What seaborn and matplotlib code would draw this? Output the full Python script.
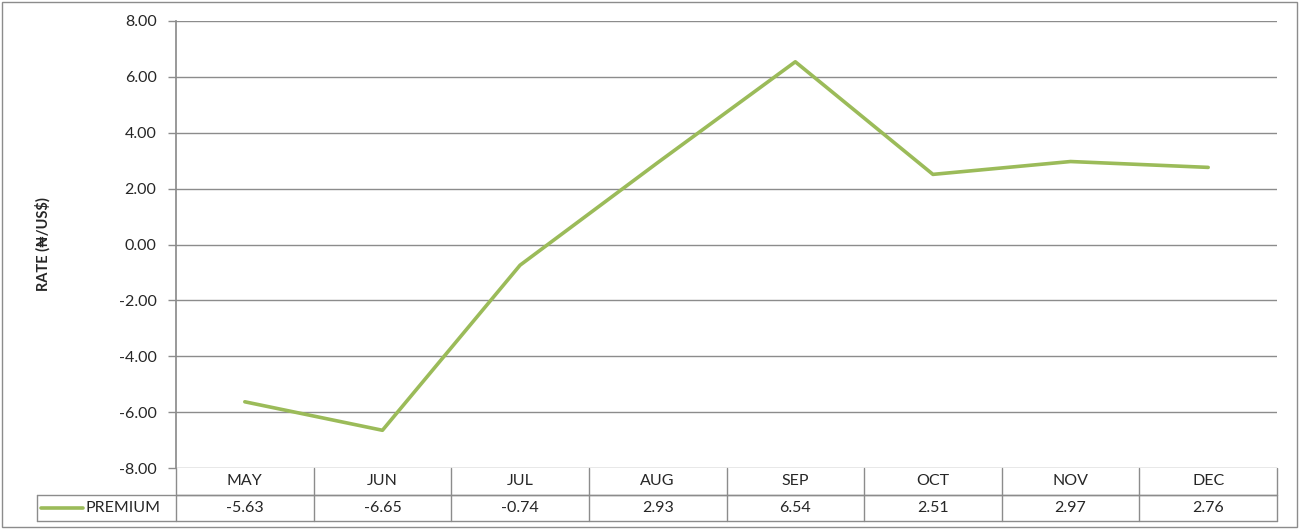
import seaborn as sns
import pandas as pd
import matplotlib.pyplot as plt
from matplotlib.patches import Rectangle

sns.set_theme(style="white")
plt.rcParams['font.family'] = ['Lato', 'DejaVu Sans']

months = ["MAY", "JUN", "JUL", "AUG", "SEP", "OCT", "NOV", "DEC"]
premium = [-5.63, -6.65, -0.74, 2.93, 6.54, 2.51, 2.97, 2.76]
series_name = "PREMIUM"
yticks = [-8, -6, -4, -2, 0, 2, 4, 6, 8]

df = pd.DataFrame({"month": months, "rate": premium})

GREEN = "#9BBB59"
GRID = "#8c8c8c"

fig = plt.figure(figsize=(12.99, 5.29), dpi=100)
ax = fig.add_axes([176 / 1299, 61 / 529, 1101 / 1299, 447 / 529])

sns.lineplot(data=df, x="month", y="rate", ax=ax, color=GREEN, lw=2.6, sort=False)

ax.set_xlim(-0.5, len(months) - 0.5)
ax.set_ylim(-8, 8)
ax.set_yticks(yticks)
ax.set_yticklabels([f"{v:.2f}" for v in yticks], fontsize=11.5)
ax.set_xticks([])
ax.set_xlabel("")
ax.set_ylabel("RATE (\u20a6/US$)", fontsize=10.5, fontweight="bold")
ax.yaxis.set_label_coords((51 - 176) / 1101, 0.5)
ax.yaxis.grid(True, color=GRID, lw=1)
ax.tick_params(axis="y", length=6, width=1, color=GRID, left=True, pad=8)
for s in ["top", "right", "bottom"]:
    ax.spines[s].set_visible(False)
ax.spines["left"].set_color(GRID)

# data table beneath the axes (axes fraction coordinates)
row_h = 26.5 / 447
col_w = 1.0 / len(months)
leg_left = (37 - 176) / 1101
tkw = dict(transform=ax.transAxes, clip_on=False, color=GRID, lw=1)
ax.plot([0, 1], [-row_h, -row_h], **tkw)
ax.plot([leg_left, 1], [-row_h, -row_h], **tkw)
ax.plot([leg_left, 1], [-2 * row_h, -2 * row_h], **tkw)
ax.plot([0, 0], [0, -2 * row_h], **tkw)
ax.plot([leg_left, leg_left], [-row_h, -2 * row_h], **tkw)
for i in range(1, len(months) + 1):
    ax.plot([i * col_w, i * col_w], [0, -2 * row_h], **tkw)

for i, (m, v) in enumerate(zip(months, premium)):
    xc = (i + 0.5) * col_w
    ax.text(xc, -0.5 * row_h, m, transform=ax.transAxes, ha="center", va="center", fontsize=11.5)
    ax.text(xc, -1.5 * row_h, f"{v:.2f}", transform=ax.transAxes, ha="center", va="center", fontsize=11.5)

ax.plot([leg_left + 4 / 1101, leg_left + 46 / 1101], [-1.5 * row_h, -1.5 * row_h],
        transform=ax.transAxes, clip_on=False, color=GREEN, lw=2.6)
ax.text(leg_left + 49 / 1101, -1.5 * row_h, series_name, transform=ax.transAxes,
        ha="left", va="center", fontsize=11.5)

# outer chart border
fig.patches.append(Rectangle((2 / 1299, 2 / 529), 1295 / 1299, 525 / 529, transform=fig.transFigure,
                             fill=False, edgecolor=GRID, lw=1))

fig.savefig("out.png", dpi=100)
